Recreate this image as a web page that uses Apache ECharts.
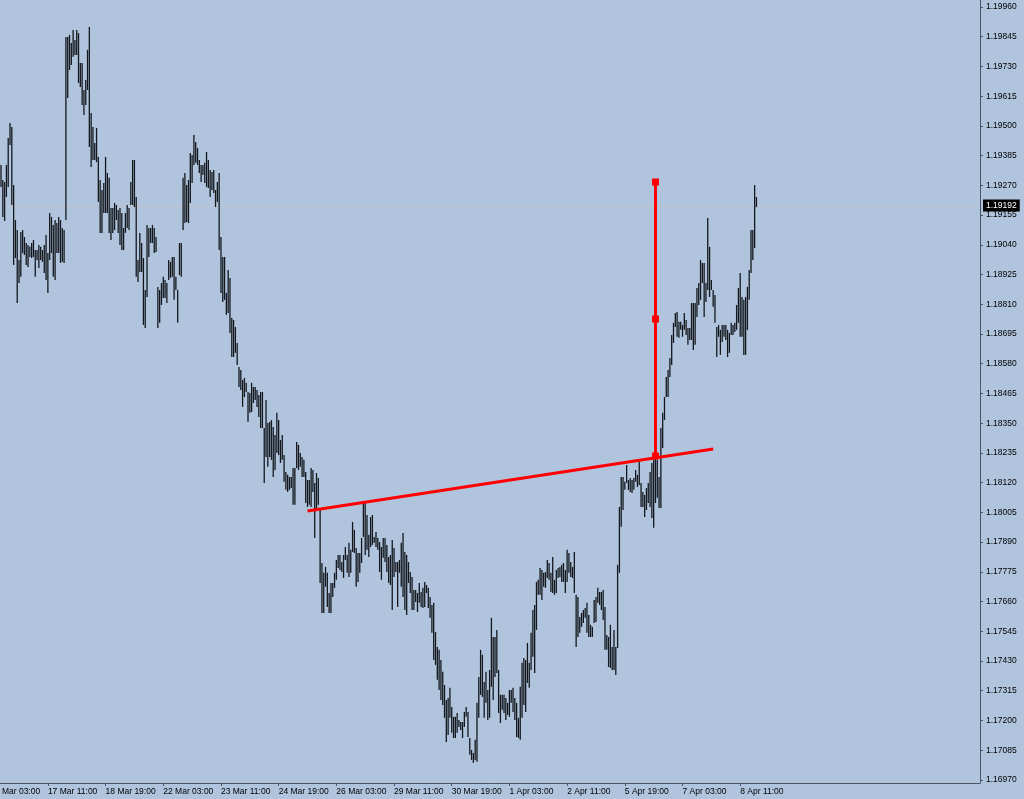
<!DOCTYPE html>
<html>
<head>
<meta charset="utf-8">
<script src="https://cdn.jsdelivr.net/npm/echarts@6/dist/echarts.min.js"></script>
<style>
html,body{margin:0;padding:0;background:#B0C4DE;}
#chart{width:1024px;height:799px;}
</style>
</head>
<body>
<div id="chart"></div>
<script>
// EURUSD H1 bars (high / low), first bar = 16 Mar 09:00
const firstBarOffset = 6;       // bars between the first time label (16 Mar 03:00) and the first bar
const barsPerLabel = 32;
const xTickLabels = ['16 Mar 03:00','17 Mar 11:00','18 Mar 19:00','22 Mar 03:00','23 Mar 11:00','24 Mar 19:00','26 Mar 03:00','29 Mar 11:00','30 Mar 19:00','1 Apr 03:00','2 Apr 11:00','5 Apr 19:00','7 Apr 03:00','8 Apr 11:00'];
const yTickLabels = ['1.16970','1.17085','1.17200','1.17315','1.17430','1.17545','1.17660','1.17775','1.17890','1.18005','1.18120','1.18235','1.18350','1.18465','1.18580','1.18695','1.18810','1.18925','1.19040','1.19155','1.19270','1.19385','1.19500','1.19615','1.19730','1.19845','1.19960'];
const bidPrice = 1.19192;
const trendLine = [[170, 1.18010], [395, 1.18250]];
const verticalLine = [[363, 1.19283], [363, 1.18753], [363, 1.18223]];

const highs = [
1.19349,1.19291,1.19283,1.19349,1.19453,1.19511,1.19496,1.19271,1.19136,1.19097,
1.18981,1.19090,1.19097,1.19070,1.19047,1.19039,1.19032,1.19047,1.19059,1.19020,
1.19020,1.19039,1.19032,1.19020,1.19039,1.19078,1.19008,1.19163,1.19148,1.19117,
1.19136,1.19124,1.19148,1.19136,1.19105,1.19097,1.19844,1.19844,1.19852,1.19821,
1.19871,1.19832,1.19871,1.19859,1.19743,1.19743,1.19639,1.19678,1.19794,1.19883,
1.19550,1.19496,1.19434,1.19492,1.19380,1.19291,1.19252,1.19279,1.19380,1.19318,
1.19299,1.19182,1.19182,1.19202,1.19194,1.19175,1.19182,1.19163,1.19105,1.19163,
1.19194,1.19182,1.19283,1.19368,1.19368,1.19225,1.18981,1.19086,1.19047,1.18989,
1.18865,1.19117,1.19105,1.19105,1.19117,1.19105,1.19070,1.18877,1.18865,1.18892,
1.18916,1.18904,1.18892,1.18981,1.18974,1.18993,1.18993,1.18916,1.18865,1.19047,
1.19047,1.19299,1.19318,1.19271,1.19291,1.19395,1.19387,1.19465,1.19438,1.19415,
1.19368,1.19349,1.19349,1.19357,1.19399,1.19368,1.19329,1.19322,1.19329,1.19252,
1.19283,1.19318,1.19070,1.18993,1.18993,1.18854,1.18943,1.18912,1.18757,1.18749,
1.18722,1.18660,1.18567,1.18556,1.18517,1.18525,1.18506,1.18471,1.18467,1.18506,
1.18490,1.18490,1.18478,1.18459,1.18471,1.18471,1.18331,1.18440,1.18351,1.18355,
1.18362,1.18335,1.18304,1.18390,1.18362,1.18285,1.18304,1.18227,1.18161,1.18150,
1.18142,1.18142,1.18177,1.18177,1.18277,1.18266,1.18235,1.18219,1.18208,1.18161,
1.18130,1.18130,1.18177,1.18169,1.18119,1.18157,1.18138,1.18014,1.17809,1.17771,
1.17794,1.17771,1.17693,1.17732,1.17732,1.17771,1.17821,1.17840,1.17840,1.17813,
1.17840,1.17871,1.17840,1.17887,1.17860,1.17968,1.17937,1.17867,1.17848,1.17848,
1.17906,1.18041,1.18045,1.17995,1.17918,1.17987,1.17995,1.17910,1.17929,1.17906,
1.17890,1.17871,1.17906,1.17906,1.17879,1.17832,1.17840,1.17898,1.17867,1.17813,
1.17813,1.17821,1.17887,1.17925,1.17852,1.17840,1.17813,1.17774,1.17755,1.17705,
1.17705,1.17693,1.17732,1.17697,1.17713,1.17736,1.17724,1.17713,1.17678,1.17647,
1.17655,1.17542,1.17484,1.17473,1.17434,1.17388,1.17337,1.17279,1.17287,1.17326,
1.17252,1.17214,1.17214,1.17229,1.17202,1.17194,1.17194,1.17233,1.17252,1.17233,
1.17132,1.17086,1.17074,1.17125,1.17268,1.17368,1.17473,1.17454,1.17349,1.17388,
1.17318,1.17395,1.17597,1.17523,1.17523,1.17550,1.17395,1.17299,1.17299,1.17299,
1.17287,1.17268,1.17318,1.17318,1.17326,1.17287,1.17268,1.17210,1.17330,1.17423,
1.17442,1.17434,1.17500,1.17423,1.17539,1.17627,1.17647,1.17736,1.17744,1.17790,
1.17782,1.17771,1.17774,1.17821,1.17809,1.17771,1.17832,1.17744,1.17782,1.17790,
1.17794,1.17802,1.17809,1.17782,1.17860,1.17848,1.17813,1.17794,1.17852,1.17686,
1.17678,1.17600,1.17616,1.17627,1.17635,1.17655,1.17608,1.17570,1.17562,1.17666,
1.17678,1.17713,1.17697,1.17697,1.17705,1.17639,1.17531,1.17523,1.17570,1.17484,
1.17550,1.17484,1.17802,1.18026,1.18142,1.18142,1.18123,1.18188,1.18130,1.18138,
1.18130,1.18138,1.18169,1.18150,1.18208,1.18119,1.18084,1.18072,1.18099,1.18119,
1.18161,1.18196,1.18208,1.18219,1.18208,1.18142,1.18331,1.18390,1.18451,1.18529,
1.18556,1.18602,1.18691,1.18738,1.18776,1.18780,1.18742,1.18742,1.18730,1.18776,
1.18749,1.18718,1.18718,1.18815,1.18815,1.18815,1.18873,1.18892,1.18981,1.18970,
1.18970,1.18892,1.19144,1.19032,1.18904,1.18865,1.18846,1.18722,1.18730,1.18711,
1.18730,1.18730,1.18730,1.18711,1.18699,1.18738,1.18730,1.18738,1.18807,1.18873,
1.18931,1.18838,1.18827,1.18838,1.18877,1.18943,1.19097,1.19097,1.19271,1.19225
];
const lows = [
1.19264,1.19148,1.19132,1.19225,1.19264,1.19426,1.19194,1.18962,1.18989,1.18815,
1.18892,1.18916,1.19008,1.19001,1.18962,1.18954,1.18993,1.18989,1.18993,1.18916,
1.18981,1.18950,1.18981,1.18974,1.18931,1.18904,1.18854,1.18981,1.19008,1.18916,
1.18904,1.19008,1.19008,1.18970,1.18974,1.18970,1.19136,1.19608,1.19716,1.19736,
1.19767,1.19774,1.19774,1.19666,1.19650,1.19581,1.19542,1.19581,1.19639,1.19418,
1.19341,1.19368,1.19368,1.19360,1.19206,1.19086,1.19086,1.19163,1.19163,1.19163,
1.19086,1.19059,1.19086,1.19097,1.19136,1.19086,1.19039,1.19020,1.19020,1.19086,
1.19105,1.19097,1.19194,1.19194,1.19186,1.18916,1.18896,1.18935,1.18935,1.18730,
1.18718,1.18838,1.18993,1.19047,1.19047,1.19008,1.19012,1.18718,1.18738,1.18807,
1.18834,1.18834,1.18815,1.18904,1.18912,1.18916,1.18827,1.18865,1.18738,1.18923,
1.18916,1.19097,1.19124,1.19128,1.19124,1.19202,1.19279,1.19349,1.19357,1.19349,
1.19318,1.19283,1.19310,1.19279,1.19264,1.19260,1.19225,1.19252,1.19240,1.19186,
1.19206,1.19020,1.18854,1.18819,1.18827,1.18769,1.18776,1.18699,1.18606,1.18606,
1.18622,1.18575,1.18490,1.18478,1.18413,1.18451,1.18471,1.18355,1.18390,1.18393,
1.18428,1.18440,1.18413,1.18374,1.18331,1.18331,1.18119,1.18219,1.18181,1.18219,
1.18208,1.18142,1.18169,1.18235,1.18227,1.18196,1.18208,1.18123,1.18092,1.18084,
1.18092,1.18099,1.18034,1.18034,1.18177,1.18169,1.18181,1.18142,1.18142,1.18041,
1.18026,1.18034,1.18026,1.18084,1.17906,1.18014,1.18034,1.17732,1.17616,1.17616,
1.17717,1.17639,1.17616,1.17616,1.17678,1.17713,1.17744,1.17790,1.17782,1.17774,
1.17751,1.17821,1.17771,1.17755,1.17771,1.17852,1.17848,1.17717,1.17736,1.17771,
1.17809,1.17910,1.17840,1.17860,1.17832,1.17871,1.17879,1.17887,1.17871,1.17860,
1.17774,1.17744,1.17829,1.17813,1.17774,1.17732,1.17724,1.17627,1.17755,1.17774,
1.17639,1.17771,1.17717,1.17678,1.17627,1.17608,1.17732,1.17693,1.17627,1.17627,
1.17658,1.17620,1.17655,1.17639,1.17635,1.17639,1.17693,1.17635,1.17597,1.17539,
1.17434,1.17415,1.17357,1.17318,1.17279,1.17260,1.17210,1.17117,1.17144,1.17210,
1.17152,1.17132,1.17132,1.17152,1.17175,1.17163,1.17132,1.17175,1.17214,1.17136,
1.17067,1.17047,1.17036,1.17047,1.17040,1.17210,1.17299,1.17291,1.17210,1.17268,
1.17202,1.17210,1.17330,1.17279,1.17368,1.17384,1.17229,1.17190,1.17241,1.17229,
1.17202,1.17221,1.17214,1.17268,1.17233,1.17202,1.17136,1.17132,1.17125,1.17210,
1.17260,1.17233,1.17345,1.17326,1.17395,1.17446,1.17384,1.17550,1.17686,1.17686,
1.17666,1.17717,1.17713,1.17751,1.17744,1.17697,1.17693,1.17686,1.17693,1.17751,
1.17755,1.17736,1.17736,1.17693,1.17736,1.17771,1.17755,1.17751,1.17693,1.17484,
1.17523,1.17539,1.17562,1.17577,1.17597,1.17539,1.17523,1.17523,1.17523,1.17577,
1.17581,1.17655,1.17647,1.17627,1.17589,1.17473,1.17473,1.17407,1.17403,1.17395,
1.17395,1.17376,1.17480,1.17771,1.17949,1.18014,1.18092,1.18119,1.18092,1.18084,
1.18080,1.18092,1.18123,1.18103,1.18111,1.18026,1.18026,1.17987,1.18014,1.18041,
1.18026,1.17983,1.17945,1.18041,1.18061,1.18022,1.18022,1.18254,1.18362,1.18451,
1.18451,1.18529,1.18575,1.18660,1.18722,1.18684,1.18680,1.18711,1.18684,1.18711,
1.18691,1.18653,1.18672,1.18672,1.18633,1.18653,1.18761,1.18807,1.18827,1.18892,
1.18761,1.18819,1.18865,1.18838,1.18865,1.18800,1.18738,1.18606,1.18684,1.18614,
1.18664,1.18684,1.18672,1.18606,1.18622,1.18691,1.18691,1.18703,1.18711,1.18738,
1.18684,1.18684,1.18614,1.18614,1.18711,1.18827,1.18931,1.18981,1.19028,1.19186
];

const X_MIN = 0, X_MAX = 549;
const barData = highs.map((h, i) => [i + firstBarOffset, lows[i], h]);
const xTickValues = xTickLabels.map((_, k) => k * barsPerLabel);
const yTickValues = yTickLabels.map(Number);
const shift = p => [p[0] + firstBarOffset, p[1]];

const FONT = 'Liberation Sans';
const AXIS = '#4b5563';
const chart = echarts.init(document.getElementById('chart'), null, {renderer: 'canvas'});
chart.setOption({
  backgroundColor: '#B0C4DE',
  animation: false,
  grid: {left: -9.818, right: 44, top: 0, bottom: 16, containLabel: false, outerBoundsMode: 'none'},
  xAxis: {
    type: 'value', min: X_MIN, max: X_MAX,
    axisLine: {show: true, onZero: false, lineStyle: {color: AXIS, width: 1}},
    axisTick: {show: true, length: 3, customValues: xTickValues, lineStyle: {color: AXIS}},
    axisLabel: {customValues: xTickValues, formatter: v => xTickLabels[Math.round(v / barsPerLabel)] || '',
      align: 'left', margin: 4, color: '#000', fontFamily: FONT, fontSize: 8.5},
    splitLine: {show: false}
  },
  yAxis: {
    type: 'value', position: 'right', min: 1.16958, max: 1.19987, scale: true,
    axisLine: {show: true, onZero: false, lineStyle: {color: AXIS, width: 1}},
    axisTick: {show: true, length: 3, customValues: yTickValues, lineStyle: {color: AXIS}},
    axisLabel: {customValues: yTickValues, formatter: v => v.toFixed(5),
      margin: 6, color: '#000', fontFamily: FONT, fontSize: 8.5},
    splitLine: {show: false}
  },
  series: [
    {
      type: 'line', z: 1, silent: true, symbol: 'none',
      data: [[X_MIN, bidPrice], [X_MAX, bidPrice]],
      lineStyle: {color: '#C4C4C8', width: 1},
      endLabel: {show: true, distance: 3, formatter: bidPrice.toFixed(5),
        color: '#fff', backgroundColor: '#000', padding: [2, 3, 1, 3], fontFamily: FONT, fontSize: 8.5}
    },
    {
      type: 'custom', z: 2, silent: true, clip: true,
      data: barData,
      encode: {x: 0, y: [1, 2]},
      renderItem: function (params, api) {
        const x = api.value(0);
        const lo = api.coord([x, api.value(1)]);
        const hi = api.coord([x, api.value(2)]);
        return {type: 'line', shape: {x1: lo[0], y1: lo[1], x2: hi[0], y2: hi[1]},
          style: {stroke: '#14181d', lineWidth: 1.3}};
      }
    },
    {
      type: 'line', z: 5, silent: true, data: trendLine.map(shift), symbol: 'none',
      lineStyle: {color: '#ff0000', width: 3}
    },
    {
      type: 'line', z: 5, silent: true, data: verticalLine.map(shift),
      symbol: 'rect', symbolSize: 7, showAllSymbol: true,
      itemStyle: {color: '#ff0000'}, lineStyle: {color: '#ff0000', width: 3}
    }
  ]
});
</script>
</body>
</html>
